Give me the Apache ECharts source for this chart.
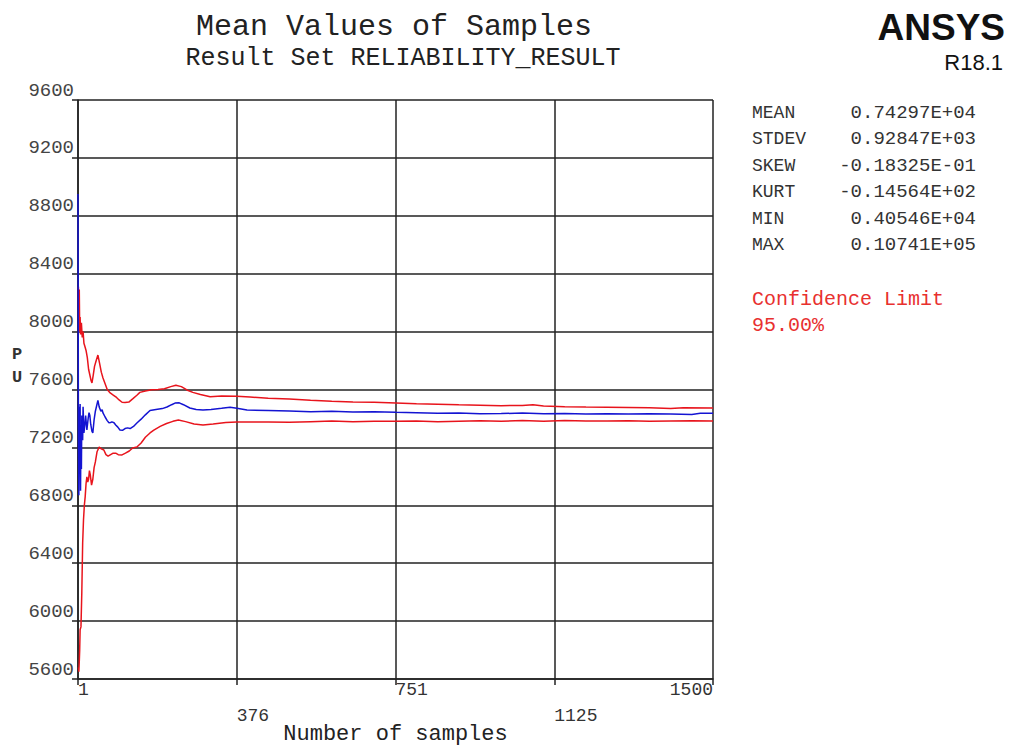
<!DOCTYPE html>
<html>
<head>
<meta charset="utf-8">
<script src="https://cdn.jsdelivr.net/npm/echarts@6/dist/echarts.min.js"></script>
<style>
html,body{margin:0;padding:0;background:#fff;}
#chart{width:1010px;height:747px;}
</style>
</head>
<body>
<div id="chart"></div>
<script>
// ---- data ----
var titleText = 'Mean Values of Samples';
var subtitleText = 'Result Set RELIABILITY_RESULT';
var xAxisName = 'Number of samples';
var yAxisName = ['P', 'U'];
var xTickLabels = ['1', '376', '751', '1125', '1500'];
var yMin = 5600, yMax = 9600, yStep = 400;

var meanSamples = [1,2,3,4,5,6,7,8,9,10,12,13,15,17,19,22,25,27,29,31,34,36,39,42,46,48,51,55,58,60,65,70,74,78,81,86,90,95,100,106,112,118,124,132,140,150,160,171,185,200,211,222,230,240,250,265,280,296,315,340,360,376,400,450,500,550,600,650,700,751,800,850,900,950,1000,1050,1100,1150,1200,1250,1300,1350,1400,1450,1470,1500];
var meanValues = [8950,7250,6870,7480,7100,7500,6900,7350,7050,7420,7250,7480,7300,7350,7420,7320,7400,7440,7420,7360,7310,7300,7390,7450,7500,7525,7480,7450,7460,7438,7410,7385,7370,7372,7376,7370,7355,7340,7320,7318,7330,7335,7330,7345,7369,7395,7425,7455,7462,7468,7479,7495,7506,7508,7495,7472,7462,7458,7462,7470,7478,7470,7458,7455,7452,7447,7450,7444,7446,7442,7440,7436,7438,7432,7434,7437,7432,7434,7431,7433,7430,7432,7430,7428,7436,7436];

var upperSamples = [2,3,4,5,6,7,9,11,13,15,17,20,23,26,29,32,34,37,40,44,48,52,56,60,65,70,77,85,92,98,105,112,121,130,140,147,160,175,190,205,220,232,245,258,272,290,313,340,376,407,450,500,550,600,650,700,751,800,850,900,950,1000,1050,1075,1100,1150,1200,1250,1300,1350,1400,1430,1500];
var upperValues = [8310,8050,8290,8000,8100,7980,8060,7960,8000,7920,7900,7870,7820,7740,7700,7660,7645,7700,7760,7800,7838,7780,7720,7680,7640,7600,7576,7560,7545,7528,7512,7510,7513,7535,7560,7580,7590,7598,7600,7605,7620,7630,7620,7597,7580,7565,7550,7555,7553,7548,7540,7535,7525,7518,7513,7512,7507,7502,7498,7494,7492,7488,7490,7494,7486,7481,7479,7478,7476,7474,7468,7474,7473];

var lowerSamples = [2,3,4,5,6,8,10,12,14,16,18,20,22,24,26,28,30,33,36,39,42,46,51,56,62,67,72,78,84,90,96,105,113,122,130,140,150,160,171,180,195,210,225,238,255,275,296,320,350,376,407,450,500,550,600,650,700,751,800,850,900,950,1000,1050,1100,1150,1200,1250,1300,1350,1400,1450,1500];
var lowerValues = [5680,5650,5720,5800,5940,5960,6200,6540,6700,6800,6860,6950,6996,6960,6980,7040,7010,6940,6980,7060,7100,7170,7203,7190,7182,7150,7140,7150,7160,7160,7150,7148,7160,7175,7196,7203,7230,7270,7300,7320,7345,7365,7380,7389,7378,7362,7355,7362,7372,7375,7376,7376,7373,7378,7382,7378,7380,7380,7382,7378,7381,7384,7381,7386,7380,7385,7383,7382,7384,7380,7382,7384,7383];

var statNames = ['MEAN', 'STDEV', 'SKEW', 'KURT', 'MIN', 'MAX'];
var statValues = ['0.74297E+04', '0.92847E+03', '-0.18325E-01', '-0.14564E+02', '0.40546E+04', '0.10741E+05'];
var confidenceText = ['Confidence Limit', '95.00%'];
var logoText = ['ANSYS', 'R18.1'];

// ---- build ----
function pairs(ns, vs) {
  // axis value = sample number - 1 so that ticks land on 1, 376, 751, 1125, 1500
  return ns.map(function (n, i) { return [n - 1, vs[i]]; });
}

var MONO = '"Liberation Mono", "DejaVu Sans Mono", monospace';
var chart = echarts.init(document.getElementById('chart'), null, {renderer: 'svg'});

var g = [];
g.push({type: 'text', x: 394, y: 27, style: {text: titleText, font: '30px ' + MONO, fill: '#222', align: 'center', verticalAlign: 'middle'}});
g.push({type: 'text', x: 403, y: 58, style: {text: subtitleText, font: '25px ' + MONO, fill: '#222', align: 'center', verticalAlign: 'middle'}});
g.push({type: 'text', x: 1005, y: 27, style: {text: logoText[0], font: 'bold 37px "Liberation Sans", "DejaVu Sans", sans-serif', fill: '#111', align: 'right', verticalAlign: 'middle'}});
g.push({type: 'text', x: 1003, y: 62, style: {text: logoText[1], font: '22px "Liberation Sans", "DejaVu Sans", sans-serif', fill: '#111', align: 'right', verticalAlign: 'middle'}});
for (var i = 0; i < statNames.length; i++) {
  var yy = 113 + i * 26.4;
  g.push({type: 'text', x: 752, y: yy, style: {text: statNames[i], font: '18px ' + MONO, fill: '#333', align: 'left', verticalAlign: 'middle'}});
  g.push({type: 'text', x: 976, y: yy, style: {text: statValues[i], font: '19px ' + MONO, fill: '#333', align: 'right', verticalAlign: 'middle'}});
}
g.push({type: 'text', x: 752, y: 299, style: {text: confidenceText[0], font: '20px ' + MONO, fill: '#e8302f', align: 'left', verticalAlign: 'middle'}});
g.push({type: 'text', x: 752, y: 325, style: {text: confidenceText[1], font: '20px ' + MONO, fill: '#e8302f', align: 'left', verticalAlign: 'middle'}});
g.push({type: 'text', x: 17, y: 354, style: {text: yAxisName[0], font: 'bold 17px ' + MONO, fill: '#333', align: 'center', verticalAlign: 'middle'}});
g.push({type: 'text', x: 17, y: 377, style: {text: yAxisName[1], font: 'bold 17px ' + MONO, fill: '#333', align: 'center', verticalAlign: 'middle'}});

var option = {
  backgroundColor: '#fff',
  animation: false,
  grid: {left: 78, right: 297, top: 100, bottom: 68, show: false, outerBoundsMode: 'none', containLabel: false},
  xAxis: {
    type: 'value', min: 0, max: 1499, interval: 374.75,
    name: xAxisName, nameLocation: 'middle', nameGap: 44, nameMoveOverlap: false,
    nameTextStyle: {fontFamily: MONO, fontSize: 22, color: '#222', verticalAlign: 'top'},
    axisLine: {show: true, onZero: false, lineStyle: {color: '#222', width: 1.5}},
    axisTick: {show: true, length: 6, inside: false, lineStyle: {color: '#222', width: 1.5}},
    axisLabel: {
      align: 'left', alignMaxLabel: 'right', margin: -2,
      fontFamily: MONO, fontSize: 18, color: '#333', lineHeight: 26, verticalAlign: 'top',
      formatter: function (v) {
        var idx = Math.round(v / 374.75);
        var t = xTickLabels[idx] || '';
        return idx % 2 === 1 ? '\n' + t : t;
      }
    },
    splitLine: {show: true, lineStyle: {color: '#222', width: 1.5}}
  },
  yAxis: {
    type: 'value', min: yMin, max: yMax, interval: yStep,
    axisLine: {show: true, onZero: false, lineStyle: {color: '#222', width: 1.5}},
    axisTick: {show: true, length: 6, lineStyle: {color: '#222', width: 1.5}},
    axisLabel: {fontFamily: MONO, fontSize: 19, color: '#444', margin: 4, verticalAlign: 'bottom',
      formatter: function (v) { return String(v); }},
    splitLine: {show: true, lineStyle: {color: '#222', width: 1.5}}
  },
  series: [
    {type: 'line', name: 'upper', data: pairs(upperSamples, upperValues), showSymbol: false, lineStyle: {color: '#e8141c', width: 1.5}, z: 3},
    {type: 'line', name: 'lower', data: pairs(lowerSamples, lowerValues), showSymbol: false, lineStyle: {color: '#e8141c', width: 1.5}, z: 3},
    {type: 'line', name: 'mean', data: pairs(meanSamples, meanValues), showSymbol: false, lineStyle: {color: '#1414d2', width: 1.5}, z: 4}
  ],
  graphic: g
};
chart.setOption(option);
</script>
</body>
</html>
